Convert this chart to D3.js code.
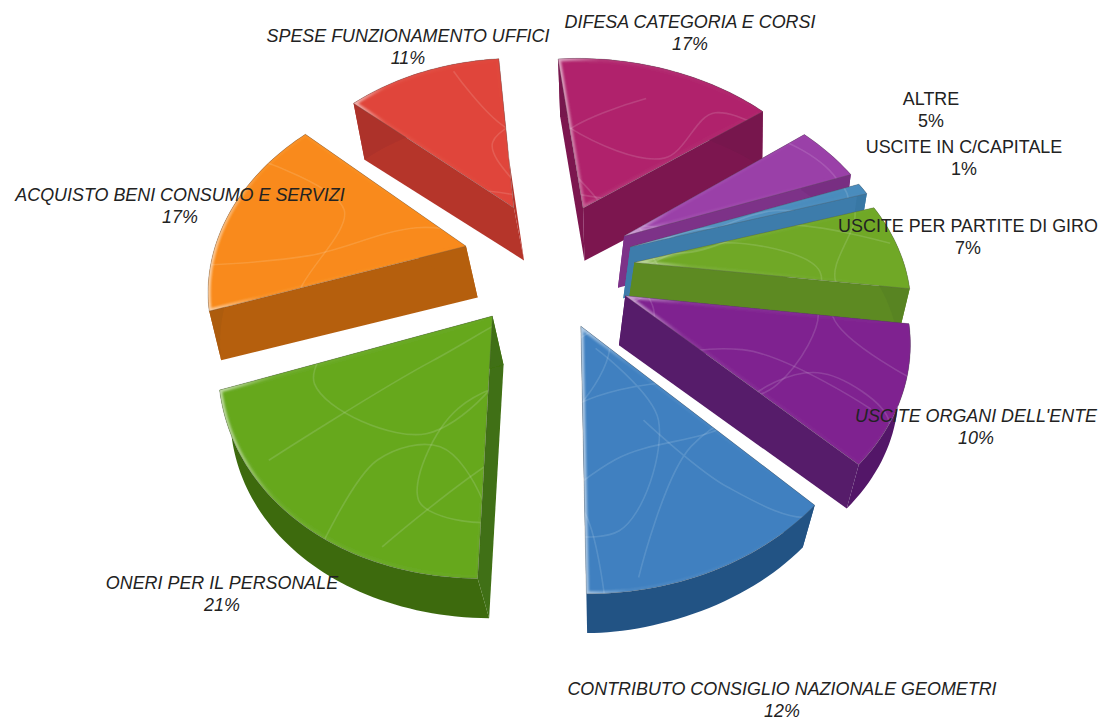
<!DOCTYPE html>
<html><head><meta charset="utf-8">
<script src="https://cdn.jsdelivr.net/npm/d3@7/dist/d3.min.js"></script>
<style>html,body{margin:0;background:#fff}svg{display:block}</style></head>
<body><svg id="c" width="1100" height="720"></svg>
<script>
const categories=["DIFESA CATEGORIA E CORSI","ALTRE","USCITE IN C/CAPITALE","USCITE PER PARTITE DI GIRO","USCITE ORGANI DELL'ENTE","CONTRIBUTO CONSIGLIO NAZIONALE GEOMETRI","ONERI PER IL PERSONALE","ACQUISTO BENI CONSUMO E SERVIZI","SPESE FUNZIONAMENTO UFFICI"];
const values=[17,5,1,7,10,12,21,17,11];
const topColors=["#b0246c","#9a3fa8","#4a8cbd","#6fa826","#7f2390","#3f80c0","#66a81f","#f98a1a","#e0453a"];
const sideColors=["#7c1650","#7d3088","#3c7cab","#5d8a24","#561a6b","#24568a","#3f7012","#b55f10","#b5352c"];
const italic=[1,0,0,0,1,1,1,1,1];
const labelX=[690,931,964,968,976,782,222,180,408];
const labelY=[28,105,153,232,422,695,589,201,42];
const drawOrder=[0,1,2,3,4,8,7,6,5];
// perspective layout of the pie
const cx=548,cy=263,S=262,B=194,p=0.178,explode=0.33,warp=4.5*Math.PI/180,warpBack=2*Math.PI/180,stretch=0.028;
const swirls=[
 [[-.9,-.5],[-.5,-.2],[-.6,.3],[-.2,.5],[.1,.1],[-.1,-.4],[.3,-.7]],
 [[-.7,.6],[-.2,.2],[.3,-.1],[.7,.05],[.5,.4],[.1,.55],[-.3,.9]],
 [[.05,.1],[.25,.4],[.1,.8],[-.2,.75],[-.1,.4],[.4,.25],[.8,.5]],
 [[-.3,-.9],[-.05,-.5],[.35,-.3],[.6,-.6],[.9,-.3],[.75,.1],[1,.4]],
 [[-1,.1],[-.6,.05],[-.2,-.1],[.2,-.05],[.6,-.2],[1,-.1]],
 [[-.5,.95],[-.35,.6],[-.15,.55],[0,.75],[.05,1.05]],
 [[.2,.4],[.45,.65],[.7,.75],[.85,.55],[.65,.35],[.35,.5],[.15,.95]]
];
const svg=d3.select("#c"),defs=svg.append("defs");
const xS=d3.scaleLinear().domain([-1,1]).range([-S,S]);
const yS=d3.scaleLinear().domain([-1,1]).range([-B,B]);
const proj=(u,v)=>{const w=1-p*v;return [cx+xS(u)/w,cy+yS(v)/w];};
const depth=([x,y])=>{
  const left=x<590;
  const f=Math.max(0,Math.min(1,left?(y-30)/80:(y-105)/120));
  return [x+12*Math.tanh((590-x)/60)*f,y+60-0.035*y];
};
const line=d3.line();
const smooth=d3.line().curve(d3.curveCatmullRom);
const pie=d3.pie().sort(null).startAngle(-5*Math.PI/180).endAngle(355*Math.PI/180);
const arcs=pie(values);
defs.append("filter").attr("id","soft").append("feGaussianBlur").attr("stdDeviation",0.5);
defs.append("filter").attr("id","glow").attr("x","-10%").attr("y","-10%").attr("width","120%").attr("height","120%").append("feGaussianBlur").attr("stdDeviation",1.2);
const lit=defs.append("linearGradient").attr("id","lit");
lit.append("stop").attr("offset",0).attr("stop-color","#fff").attr("stop-opacity",.6);
lit.append("stop").attr("offset",.2).attr("stop-color","#fff").attr("stop-opacity",.08);
lit.append("stop").attr("offset",1).attr("stop-color","#fff").attr("stop-opacity",0);
const pies=svg.append("g").attr("filter","url(#soft)");
drawOrder.forEach(i=>{
  const a=arcs[i],mid=(a.startAngle+a.endAngle)/2;
  const ou=explode*Math.sin(mid),ov=-explode*Math.cos(mid);
  const n=Math.max(4,Math.round((a.endAngle-a.startAngle)*40));
  const arcPts=d3.range(n+1).map(k=>{
    const t0=a.startAngle+(a.endAngle-a.startAngle)*k/n;
    const s0=Math.sin(t0),c0=Math.cos(t0);
    const t=t0-warp*s0*s0-warpBack*2*(s0<0&&c0>0?-s0*c0:0);
    return proj(ou+Math.sin(t)+stretch*Math.sin(t)**2,ov-Math.cos(t));
  });
  const apex=proj(ou,ov);
  const outline=[apex,...arcPts];
  const g=pies.append("g");
  const wall=pts=>[...pts,...pts.slice().reverse().map(depth)];
  g.append("path").attr("d",line(wall([apex,arcPts[0]]))+"Z").attr("fill",sideColors[i]);
  g.append("path").attr("d",line(wall([apex,arcPts[n]]))+"Z").attr("fill",sideColors[i]);
  g.append("path").attr("d",line(wall(arcPts))+"Z").attr("fill",d3.color(sideColors[i]).darker(.12));
  const topD=line(outline)+"Z";
  defs.append("clipPath").attr("id","clip"+i).append("path").attr("d",topD);
  g.append("path").attr("d",topD).attr("fill",topColors[i]);
  const tex=g.append("g").attr("clip-path",`url(#clip${i})`);
  swirls.forEach(c=>tex.append("path")
    .attr("d",smooth(c.map(q=>proj(ou+q[0],ov+q[1]))))
    .attr("fill","none").attr("stroke","#fff").attr("stroke-opacity",.13).attr("stroke-width",1.6));
  tex.append("path").attr("d",topD).attr("fill","none").attr("stroke","url(#lit)").attr("stroke-width",5).attr("filter","url(#glow)");
  g.append("path").attr("d",topD).attr("fill","none").attr("stroke","#555").attr("stroke-opacity",.45).attr("stroke-width",.7);
});
const labels=svg.append("g").attr("font-family","'Liberation Sans',Arial,sans-serif").attr("font-size",17.9).attr("fill","#222").attr("text-anchor","middle");
categories.forEach((c,i)=>{
  const st=italic[i]?"italic":"normal";
  labels.append("text").attr("x",labelX[i]).attr("y",labelY[i]).attr("font-style",st).text(c);
  labels.append("text").attr("x",labelX[i]).attr("y",labelY[i]+21.5).attr("font-style",st).text(values[i]+"%");
});
</script></body></html>
